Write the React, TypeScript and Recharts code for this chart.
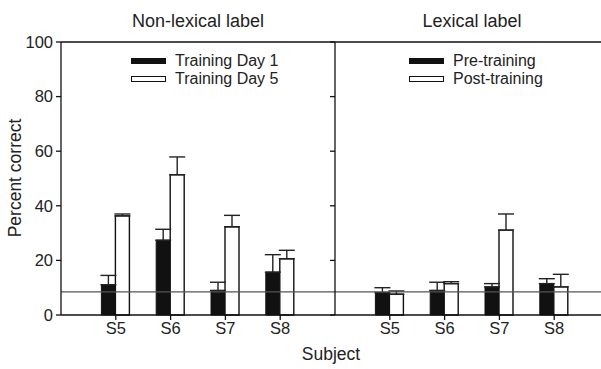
import React from 'react';
import { BarChart, Bar, XAxis, YAxis, ErrorBar, ReferenceLine } from 'recharts';

const subjects = ['S5', 'S6', 'S7', 'S8'];
const nonLexDay1 = [11.1, 27.4, 9.0, 15.7];
const nonLexDay1Err = [3.4, 4.0, 3.0, 6.4];
const nonLexDay5 = [36.3, 51.4, 32.3, 20.6];
const nonLexDay5Err = [0.7, 6.5, 4.2, 3.1];
const lexPre = [8.2, 9.0, 10.3, 11.5];
const lexPreErr = [1.8, 3.0, 1.2, 1.8];
const lexPost = [7.6, 11.5, 31.1, 10.3];
const lexPostErr = [1.2, 0.7, 5.9, 4.6];
const chanceLevel = 8.5;
const yTicks = [0, 20, 40, 60, 80, 100];

const FONT = '"Liberation Sans", Arial, Helvetica, sans-serif';
const INK = '#111';
const TEXT = '#222';

const nonLexData = subjects.map((s, i) => ({
  subject: s,
  a: nonLexDay1[i],
  aErr: [0, nonLexDay1Err[i]],
  b: nonLexDay5[i],
  bErr: [0, nonLexDay5Err[i]],
}));
const lexData = subjects.map((s, i) => ({
  subject: s,
  a: lexPre[i],
  aErr: [0, lexPreErr[i]],
  b: lexPost[i],
  bErr: [0, lexPostErr[i]],
}));

const axisLine = { stroke: INK, strokeWidth: 1.3 };
const tickStyle = { fill: TEXT, fontSize: 16.5, fontFamily: FONT };

function Panel({ data, showLabels, width, yWidth }: { data: any[]; showLabels: boolean; width: number; yWidth: number }) {
  return (
    <BarChart
      width={width}
      height={369}
      data={data}
      margin={{ top: 42, right: 0, bottom: 0, left: 0 }}
      barSize={14}
      barGap={0}
      barCategoryGap={0}
    >
      <XAxis
        dataKey="subject"
        height={54}
        padding={{ left: 27.4, right: 27.4 }}
        axisLine={axisLine}
        tickLine={axisLine}
        tickSize={5}
        tick={tickStyle}
        interval={0}
      />
      <YAxis
        domain={[0, 100]}
        ticks={yTicks}
        width={yWidth}
        axisLine={axisLine}
        tickLine={axisLine}
        tickSize={5}
        tickMargin={3}
        tick={tickStyle}
        tickFormatter={showLabels ? (v: number) => String(v) : () => ''}
      />
      <Bar dataKey="a" fill={INK} stroke={INK} strokeWidth={1} isAnimationActive={false}>
        <ErrorBar dataKey="aErr" width={8} stroke="#222" strokeWidth={1.4} direction="y" />
      </Bar>
      <Bar dataKey="b" fill="#fff" stroke={INK} strokeWidth={1.4} isAnimationActive={false}>
        <ErrorBar dataKey="bErr" width={8} stroke="#222" strokeWidth={1.4} direction="y" />
      </Bar>
      <ReferenceLine y={chanceLevel} stroke="#555" strokeWidth={1.3} />
      <ReferenceLine y={100} stroke={INK} strokeWidth={1.3} />
    </BarChart>
  );
}

function LegendBox({ left, labels }: { left: number; labels: string[] }) {
  return (
    <div style={{ position: 'absolute', left, top: 52, fontFamily: FONT, fontSize: 16, color: TEXT }}>
      {labels.map((l, i) => (
        <div key={l} style={{ display: 'flex', alignItems: 'center', height: 18 }}>
          <div
            style={{
              width: i === 0 ? 35 : 33,
              height: i === 0 ? 6 : 4,
              background: i === 0 ? INK : '#fff',
              border: i === 0 ? 'none' : `1.3px solid ${INK}`,
              marginRight: 9,
            }}
          />
          <span>{l}</span>
        </div>
      ))}
    </div>
  );
}

export default function App() {
  return (
    <div
      style={{
        position: 'absolute',
        left: 0,
        top: 0,
        width: 601,
        height: 369,
        overflow: 'hidden',
        background: '#fff',
        fontFamily: FONT,
      }}
    >
      <div style={{ position: 'absolute', left: 0, top: 0 }}>
        <Panel data={nonLexData} showLabels={true} width={335} yWidth={61} />
      </div>
      <div style={{ position: 'absolute', left: 325, top: 0 }}>
        <Panel data={lexData} showLabels={false} width={284} yWidth={10} />
      </div>
      <div style={{ position: 'absolute', left: 61, width: 274, top: 11, textAlign: 'center', fontSize: 18, color: TEXT }}>
        Non-lexical label
      </div>
      <div style={{ position: 'absolute', left: 335, width: 274, top: 11, textAlign: 'center', fontSize: 18, color: TEXT }}>
        Lexical label
      </div>
      <div
        style={{
          position: 'absolute',
          left: 15,
          top: 178,
          transform: 'translate(-50%, -50%) rotate(-90deg)',
          whiteSpace: 'nowrap',
          fontSize: 17.5,
          color: TEXT,
        }}
      >
        Percent correct
      </div>
      <div style={{ position: 'absolute', left: 231, width: 200, top: 344, textAlign: 'center', fontSize: 17.5, color: TEXT }}>
        Subject
      </div>
      <LegendBox left={131} labels={['Training Day 1', 'Training Day 5']} />
      <LegendBox left={409} labels={['Pre-training', 'Post-training']} />
    </div>
  );
}
